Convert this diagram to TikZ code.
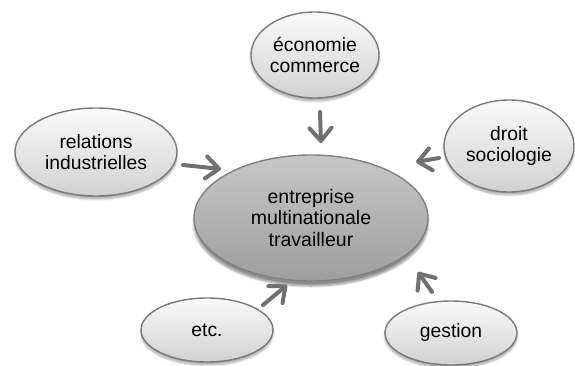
\documentclass[tikz,border=0pt]{standalone}
\usepackage{fontspec}
\setmainfont{Liberation Sans}
\usetikzlibrary{shapes.geometric,arrows.meta,shadows.blur}

\tikzset{
  bubble/.style={ellipse, draw=black!52, line width=1.4pt, inner sep=0pt,
    top color=black!2, bottom color=black!18, align=center,
    font=\fontsize{19.3}{21}\selectfont,
    blur shadow={shadow xshift=0pt, shadow yshift=-3pt, shadow blur steps=8, shadow opacity=35}},
  hub/.style={ellipse, draw=black!50, line width=1.4pt, inner sep=0pt,
    top color=black!22, bottom color=black!38, align=center,
    font=\fontsize{19.5}{21.7}\selectfont,
    blur shadow={shadow xshift=0pt, shadow yshift=-5pt, shadow blur steps=10, shadow opacity=45}},
  feed/.style={draw=black!56, line width=4pt, line cap=round,
    -{Straight Barb[length=13pt,width=22pt,round]}}
}

\begin{document}
\begin{tikzpicture}[x=1pt,y=-1pt]
\useasboundingbox (0,0) rectangle (575,366);

% central topic
\node[hub, minimum width=234pt, minimum height=126pt] (ctr) at (311,218)
  {entreprise\\multinationale\\travailleur};

% surrounding disciplines
\node[bubble, minimum width=128pt, minimum height=86pt] (eco) at (315,55)
  {économie\\commerce};
\node[bubble, minimum width=162pt, minimum height=88pt] (rel) at (96,152)
  {relations\\industrielles};
\node[bubble, minimum width=130pt, minimum height=92pt] (dro) at (509,146)
  {droit\\sociologie};
\node[bubble, minimum width=132pt, minimum height=64pt] (etc) at (207,330)
  {etc.};
\node[bubble, minimum width=132pt, minimum height=64pt] (ges) at (451,333)
  {gestion};

% arrow end points between each bubble and the centre
\coordinate (ecoT) at (320,112); \coordinate (ecoH) at (321,143);
\coordinate (relT) at (183,165); \coordinate (relH) at (221,169);
\coordinate (droT) at (439,158); \coordinate (droH) at (416,162);
\coordinate (etcT) at (263,305); \coordinate (etcH) at (287,285);
\coordinate (gesT) at (432,292); \coordinate (gesH) at (418,272);

\draw[feed] (ecoT) -- (ecoH);
\draw[feed] (relT) -- (relH);
\draw[feed] (droT) -- (droH);
\draw[feed] (etcT) -- (etcH);
\draw[feed] (gesT) -- (gesH);
\end{tikzpicture}
\end{document}
